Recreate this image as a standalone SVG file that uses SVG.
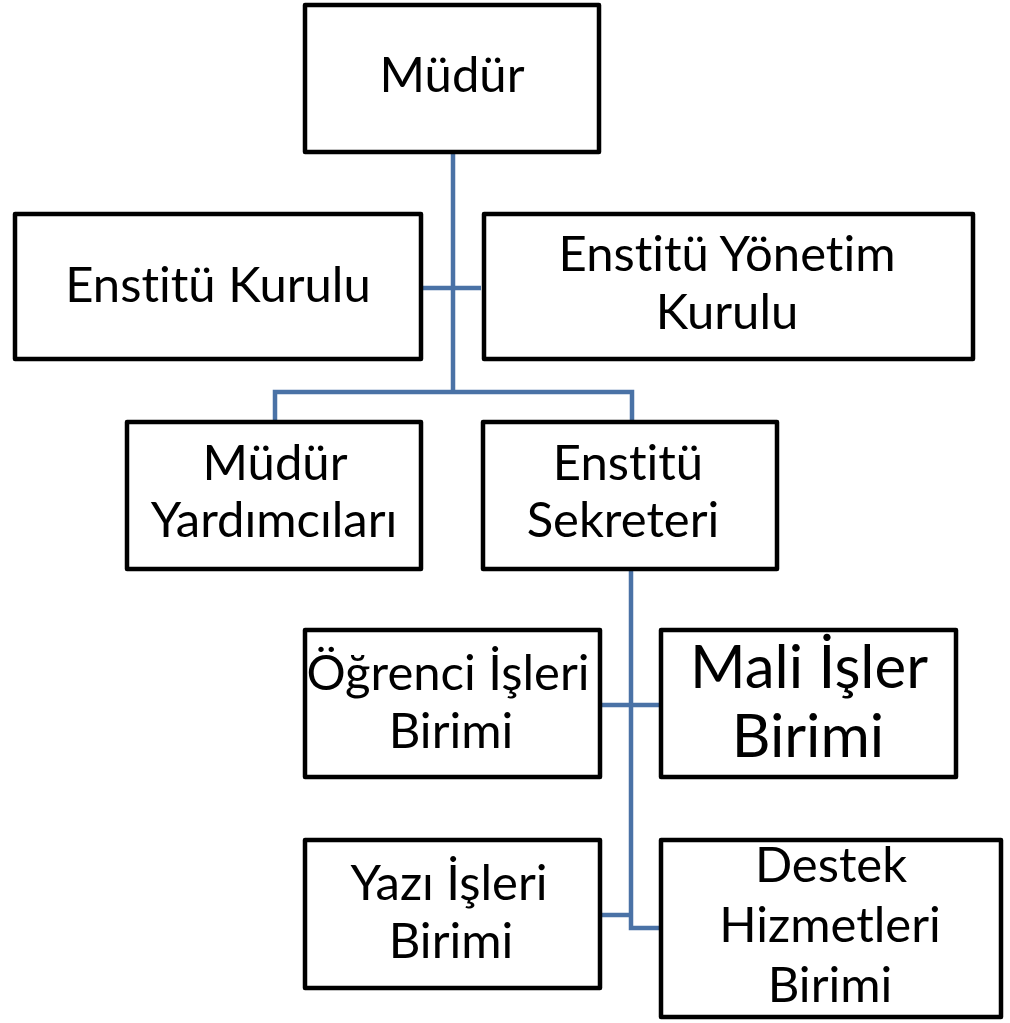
<svg xmlns="http://www.w3.org/2000/svg" width="1010" height="1023" viewBox="0 0 1010 1023">
<style>
.box{fill:#fff;stroke:#000;stroke-width:4.5;stroke-linejoin:round}
.t{font-family:Lato,"Open Sans","Liberation Sans",sans-serif;font-size:49px;fill:#000;text-anchor:middle;font-variant-ligatures:none;font-feature-settings:"liga" 0,"clig" 0}
.big{font-size:60px}
.c{fill:none;stroke:#4a72a6;stroke-width:4.5}
</style>
<rect width="1010" height="1023" fill="#fff"/>
<g id="connectors">
<path class="c" d="M453 154V392"/>
<path class="c" d="M423 288H481"/>
<path class="c" d="M275 420V392H632V420"/>
<path class="c" d="M631 571V928H659"/>
<path class="c" d="M602 705H659"/>
<path class="c" d="M602 915H631"/>
</g>
<g id="mudur">
<rect class="box" x="305" y="5" width="294" height="147"/>
<text class="t" x="452" y="92">Müdür</text>
</g>
<g id="enstitu-kurulu">
<rect class="box" x="15" y="214" width="406" height="145"/>
<text class="t" x="218" y="302">Enstitü Kurulu</text>
</g>
<g id="enstitu-yonetim-kurulu">
<rect class="box" x="484" y="214" width="489" height="145"/>
<text class="t" x="727" y="271">Enstitü Yönetim</text>
<text class="t" x="727" y="329">Kurulu</text>
</g>
<g id="mudur-yardimcilari">
<rect class="box" x="127" y="422" width="294" height="147"/>
<text class="t" x="275" y="480">Müdür</text>
<text class="t" x="274" y="537">Yardımcıları</text>
</g>
<g id="enstitu-sekreteri">
<rect class="box" x="483" y="422" width="294" height="147"/>
<text class="t" x="628" y="480">Enstitü</text>
<text class="t" x="623" y="537">Sekreteri</text>
</g>
<g id="ogrenci-isleri">
<rect class="box" x="305" y="630" width="295" height="147"/>
<text class="t" x="448" y="690">Öğrenci İşleri</text>
<text class="t" x="451" y="748">Birimi</text>
</g>
<g id="mali-isler">
<rect class="box" x="661" y="630" width="295" height="147"/>
<text class="t big" x="809" y="688">Mali İşler</text>
<text class="t big" x="808" y="757">Birimi</text>
</g>
<g id="yazi-isleri">
<rect class="box" x="305" y="840" width="295" height="148"/>
<text class="t" x="449" y="900">Yazı İşleri</text>
<text class="t" x="451" y="958">Birimi</text>
</g>
<g id="destek-hizmetleri">
<rect class="box" x="661" y="840" width="340" height="177"/>
<text class="t" x="831" y="882">Destek</text>
<text class="t" x="830" y="942">Hizmetleri</text>
<text class="t" x="830" y="1002">Birimi</text>
</g>
</svg>
